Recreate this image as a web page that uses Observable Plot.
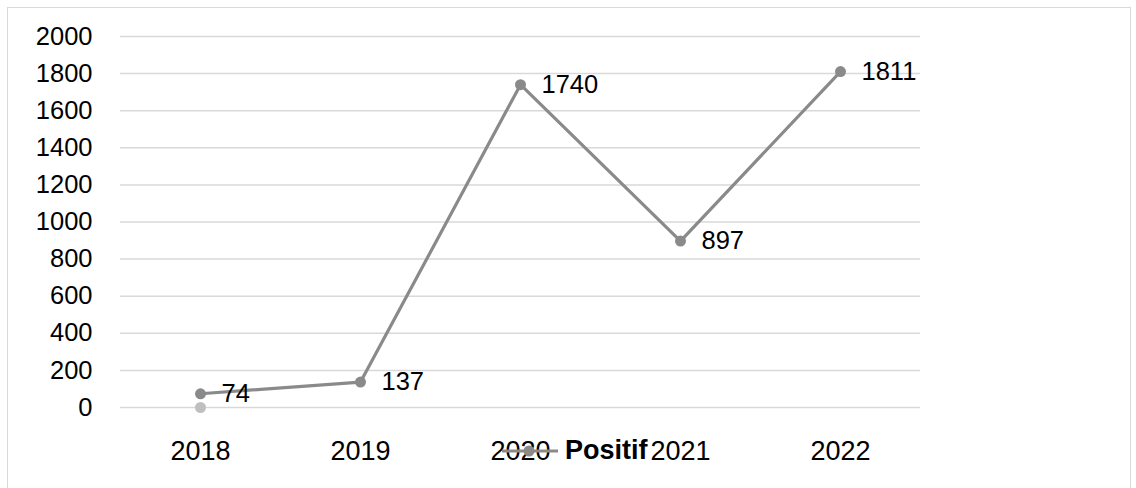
<!DOCTYPE html>
<html>
<head>
<meta charset="utf-8">
<script src="https://cdn.jsdelivr.net/npm/d3@7"></script>
<script src="https://cdn.jsdelivr.net/npm/@observablehq/plot@0.6"></script>
<style>
  html, body { margin: 0; padding: 0; background: #fff; }
  #wrap { position: relative; width: 1136px; height: 488px; overflow: hidden; font-family: "Liberation Sans", Arial, sans-serif; }
  #frame { position: absolute; left: 7px; top: 7px; width: 1124px; height: 500px; border: 1.5px solid #d9d9d9; box-sizing: border-box; pointer-events: none; }
  #legend { position: absolute; left: 502px; top: 435px; display: flex; align-items: center; font-weight: bold; font-size: 27px; color: #000; }
  #legend svg { margin-right: 7px; }
</style>
</head>
<body>
<div id="wrap">
  <div id="frame"></div>
  <div id="chart"></div>
  <div id="legend"></div>
</div>
<script>
const years = ["2018", "2019", "2020", "2021", "2022"];
const positif = [74, 137, 1740, 897, 1811];
const otherYears = ["2018"];
const otherValues = [0];
const yTicks = [0, 200, 400, 600, 800, 1000, 1200, 1400, 1600, 1800, 2000];
const seriesName = "Positif";

const data = years.map((y, i) => ({year: y, value: positif[i]}));
const other = otherYears.map((y, i) => ({year: y, value: otherValues[i]}));

const lineColor = "#8a8a8a";

const chart = Plot.plot({
  width: 1136,
  height: 488,
  marginLeft: 120,
  marginRight: 216,
  marginTop: 36,
  marginBottom: 81,
  style: {fontFamily: "'Liberation Sans', Arial, sans-serif", fontSize: "25px", color: "#000", background: "transparent"},
  x: {type: "band", domain: years, padding: 0, label: null},
  y: {domain: [0, 2000], label: null},
  marks: [
    Plot.gridY(yTicks, {stroke: "#d9d9d9", strokeOpacity: 1, strokeWidth: 1.5}),
    Plot.axisY(yTicks, {tickSize: 0, tickPadding: 28, label: null, fontSize: 25.5, tickFormat: d => String(d)}),
    Plot.axisX({tickSize: 0, tickPadding: 33, label: null, fontSize: 27}),
    Plot.dot(other, {x: "year", y: "value", r: 5.5, fill: "#bfbfbf", stroke: "none"}),
    Plot.line(data, {x: "year", y: "value", stroke: lineColor, strokeWidth: 3.2}),
    Plot.dot(data, {x: "year", y: "value", r: 5.5, fill: lineColor, stroke: "none"}),
    Plot.text(data, {x: "year", y: "value", text: d => String(d.value), textAnchor: "start", dx: 21, fontSize: 25.5, fill: "#000"})
  ]
});
document.getElementById("chart").appendChild(chart);

const legend = document.getElementById("legend");
legend.innerHTML = `<svg width="56" height="14"><line x1="0" y1="7" x2="56" y2="7" stroke="${lineColor}" stroke-width="3.2"/><circle cx="27" cy="7" r="5.5" fill="${lineColor}"/></svg><span>${seriesName}</span>`;
</script>
</body>
</html>
